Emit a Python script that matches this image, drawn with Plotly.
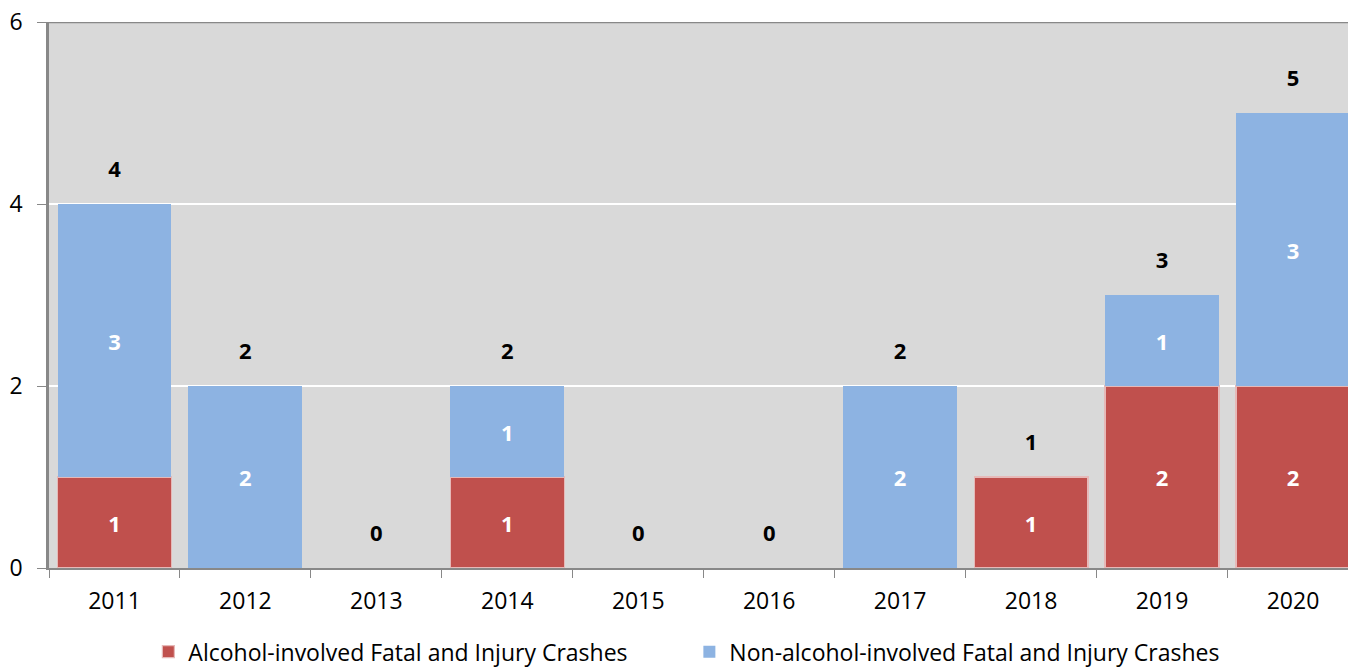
import plotly.graph_objects as go

years = ["2011", "2012", "2013", "2014", "2015", "2016", "2017", "2018", "2019", "2020"]
alcohol = [1, 0, 0, 1, 0, 0, 0, 1, 2, 2]
non_alcohol = [3, 2, 0, 1, 0, 0, 2, 0, 1, 3]
totals = [a + n for a, n in zip(alcohol, non_alcohol)]

RED = "#C0504D"
BLUE = "#8DB3E2"
FONT = "Open Sans"

fig = go.Figure()
fig.add_trace(go.Bar(
    x=years, y=alcohol, name="Alcohol-involved Fatal and Injury Crashes",
    marker=dict(color=RED, line=dict(color="#E6B9B8",
                                     width=[1.2 if v else 0 for v in alcohol])),
    text=[str(v) if v else "" for v in alcohol], textposition="inside",
    insidetextanchor="middle",
    textfont=dict(color="white", size=22, family=FONT, weight="bold"),
))
fig.add_trace(go.Bar(
    x=years, y=non_alcohol, name="Non-alcohol-involved Fatal and Injury Crashes",
    marker=dict(color=BLUE, line=dict(color=BLUE, width=0)),
    text=[str(v) if v else "" for v in non_alcohol], textposition="inside",
    insidetextanchor="middle",
    textfont=dict(color="white", size=22, family=FONT, weight="bold"),
))
fig.add_trace(go.Scatter(
    x=years, y=[t + 0.36 for t in totals], mode="text",
    text=[str(t) for t in totals], showlegend=False, hoverinfo="skip",
    textfont=dict(color="black", size=22, family=FONT, weight="bold"),
))

fig.update_layout(
    barmode="stack", bargap=0.13,
    width=1348, height=669,
    margin=dict(l=49, r=0, t=22, b=101, autoexpand=False),
    plot_bgcolor="#D9D9D9", paper_bgcolor="white",
    font=dict(family=FONT, size=23, color="black"),
    uniformtext=dict(mode="show", minsize=10),
    legend=dict(orientation="h", traceorder="normal",
                x=0.0765, xanchor="left", y=-0.114, yanchor="top",
                font=dict(size=23), entrywidth=496, entrywidthmode="pixels"),
    xaxis=dict(range=[-0.5, 9.42], showline=True, linecolor="#888888", linewidth=1.5,
               ticks="outside", ticklen=8, tickcolor="#888888",
               tickson="boundaries", showgrid=False, automargin=False,
               ticklabelstandoff=12),
    yaxis=dict(range=[0, 6], tickvals=[0, 2, 4, 6], showline=True,
               linecolor="#888888", linewidth=2.5, ticks="outside", ticklen=9,
               tickcolor="#888888", gridcolor="white", gridwidth=1.5,
               zeroline=False, automargin=False, ticklabelstandoff=10),
)
fig.add_shape(type="line", xref="paper", yref="y", x0=0, x1=1, y0=6, y1=6,
              line=dict(color="#888888", width=2.5))

fig.write_html("out.html", config={"displayModeBar": False},
               post_script="document.body.style.margin='0px';"
                           "document.documentElement.style.overflow='hidden';")
